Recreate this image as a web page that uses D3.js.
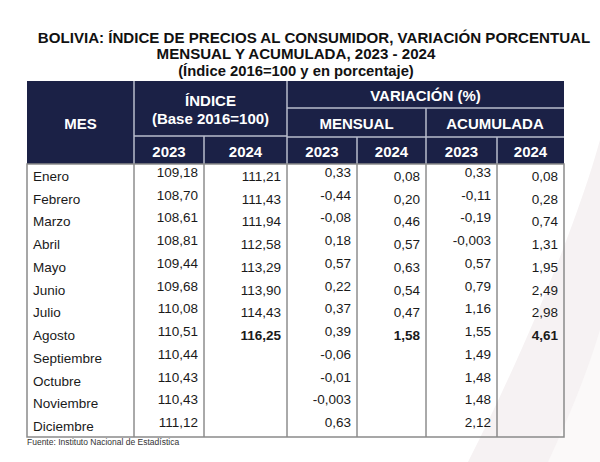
<!DOCTYPE html>
<html><head><meta charset="utf-8">
<script src="https://cdn.jsdelivr.net/npm/d3@7"></script>
<style>body{margin:0;background:#fff}svg{display:block}</style>
</head><body><svg id="c" width="600" height="462"></svg>
<script>
const months = ["Enero","Febrero","Marzo","Abril","Mayo","Junio","Julio","Agosto","Septiembre","Octubre","Noviembre","Diciembre"];
const indice2023 = [109.18,108.70,108.61,108.81,109.44,109.68,110.08,110.51,110.44,110.43,110.43,111.12];
const indice2024 = [111.21,111.43,111.94,112.58,113.29,113.90,114.43,116.25,null,null,null,null];
const mensual2023 = [0.33,-0.44,-0.08,0.18,0.57,0.22,0.37,0.39,-0.06,-0.01,-0.003,0.63];
const mensual2024 = [0.08,0.20,0.46,0.57,0.63,0.54,0.47,1.58,null,null,null,null];
const acumulada2023 = [0.33,-0.11,-0.19,-0.003,0.57,0.79,1.16,1.55,1.49,1.48,1.48,2.12];
const acumulada2024 = [0.08,0.28,0.74,1.31,1.95,2.49,2.98,4.61,null,null,null,null];
const years = ["2023","2024"];
const titleLines = ["BOLIVIA: ÍNDICE DE PRECIOS AL CONSUMIDOR, VARIACIÓN PORCENTUAL","MENSUAL Y ACUMULADA, 2023 - 2024","(Índice 2016=100 y en porcentaje)"];
const source = "Fuente: Instituto Nacional de Estadística";

const FONT = "'Liberation Sans', Arial, sans-serif";
const NAVY = "#1b2146";
const svg = d3.select("#c");

// faint watermark
svg.append("path").attr("d","M600,140 C575,230 520,360 468,462 L600,462 Z").attr("fill","#f6f2f3");
svg.append("path").attr("d","M600,330 C585,380 565,425 548,462 L600,462 Z").attr("fill","#fbf9f9");

const loc = d3.formatLocale({decimal:",",thousands:".",grouping:[3],currency:["",""],minus:"-"});
const fmt = v => (v!==0 && Math.abs(v)<0.01) ? loc.format(".3f")(v) : loc.format(".2f")(v);

// layout
const edges = [27,134,204,287,357,426,497,564];
const hTop = 81, hVar = 108, hSub = 137, hIdx = 136, bodyTop = 164, bottom = 437;
const y = d3.scaleBand().domain(months).range([bodyTop,bottom]);
const bw = y.bandwidth();

// title
const tx = [314,296,296], ty = [42.5,58.5,76], ts = [15.1,15.1,14.8];
titleLines.forEach((t,i)=>{
  svg.append("text").attr("x",tx[i]).attr("y",ty[i]).attr("text-anchor","middle")
    .attr("font-family",FONT).attr("font-weight","bold").attr("font-size",ts[i]+"px")
    .attr("fill","#111").text(t);
});

// header background
svg.append("rect").attr("x",edges[0]).attr("y",hTop).attr("width",edges[7]-edges[0]).attr("height",bodyTop-hTop).attr("fill",NAVY);
const hl = "#b9bdcc";
const line=(x1,y1,x2,y2,c,w)=>svg.append("line").attr("x1",x1).attr("y1",y1).attr("x2",x2).attr("y2",y2).attr("stroke",c).attr("stroke-width",w);
line(edges[1],hTop,edges[1],bodyTop,hl,1.5);
line(edges[3],hTop,edges[3],bodyTop,hl,1.5);
line(edges[1],hIdx,edges[3],hIdx,hl,1.5);
line(edges[3],hVar,edges[7],hVar,hl,1.5);
line(edges[3],hSub,edges[7],hSub,hl,1.5);
line(edges[5],hVar,edges[5],bodyTop,hl,1.5);
line(edges[2],hIdx,edges[2],bodyTop,hl,1.5);
line(edges[4],hSub,edges[4],bodyTop,hl,1.5);
line(edges[6],hSub,edges[6],bodyTop,hl,1.5);

const htext=(x,yy,t,s)=>svg.append("text").attr("x",x).attr("y",yy).attr("text-anchor","middle")
  .attr("font-family",FONT).attr("font-weight","bold").attr("font-size",(s||15)+"px").attr("fill","#fff").text(t);
htext((edges[0]+edges[1])/2,128.5,"MES");
htext((edges[1]+edges[3])/2,106,"ÍNDICE");
htext((edges[1]+edges[3])/2,124,"(Base 2016=100)");
htext((edges[3]+edges[7])/2,101,"VARIACIÓN (%)");
htext((edges[3]+edges[5])/2,129,"MENSUAL");
htext((edges[5]+edges[7])/2,129,"ACUMULADA");
for(let c=1;c<7;c++) htext((edges[c]+edges[c+1])/2,157,years[(c-1)%2]);

// body
const cols = [indice2023,indice2024,mensual2023,mensual2024,acumulada2023,acumulada2024];
const gb = svg.append("g");
months.forEach((m,i)=>{
  const cy = y(m)+bw/2;
  gb.append("text").attr("x",33).attr("y",cy+5.5).attr("font-family",FONT).attr("font-size","13.5px").attr("fill","#1a1a1a").text(m);
  cols.forEach((arr,c)=>{
    const v = arr[i]; if(v==null) return;
    const is2023 = c%2===0;
    const lastIdx = arr.reduce((a,d,k)=>d!=null?k:a,-1);
    const bold = !is2023 && i===lastIdx;
    gb.append("text").attr("x",edges[c+2]-6).attr("y",cy+(is2023?1.5:5.5))
      .attr("text-anchor","end").attr("font-family",FONT).attr("font-size","13.5px")
      .attr("font-weight",bold?"bold":"normal").attr("fill","#1a1a1a").text(fmt(v));
  });
});
// body lines
for(let c=1;c<7;c++) line(edges[c],bodyTop,edges[c],bottom,"#555",1);
svg.append("rect").attr("x",edges[0]).attr("y",bodyTop).attr("width",edges[7]-edges[0]).attr("height",bottom-bodyTop)
  .attr("fill","none").attr("stroke","#8a8a8a").attr("stroke-width",1.5);

svg.append("text").attr("x",27).attr("y",445).attr("font-family",FONT).attr("font-size","8.5px").attr("fill","#333").text(source);
</script></body></html>
